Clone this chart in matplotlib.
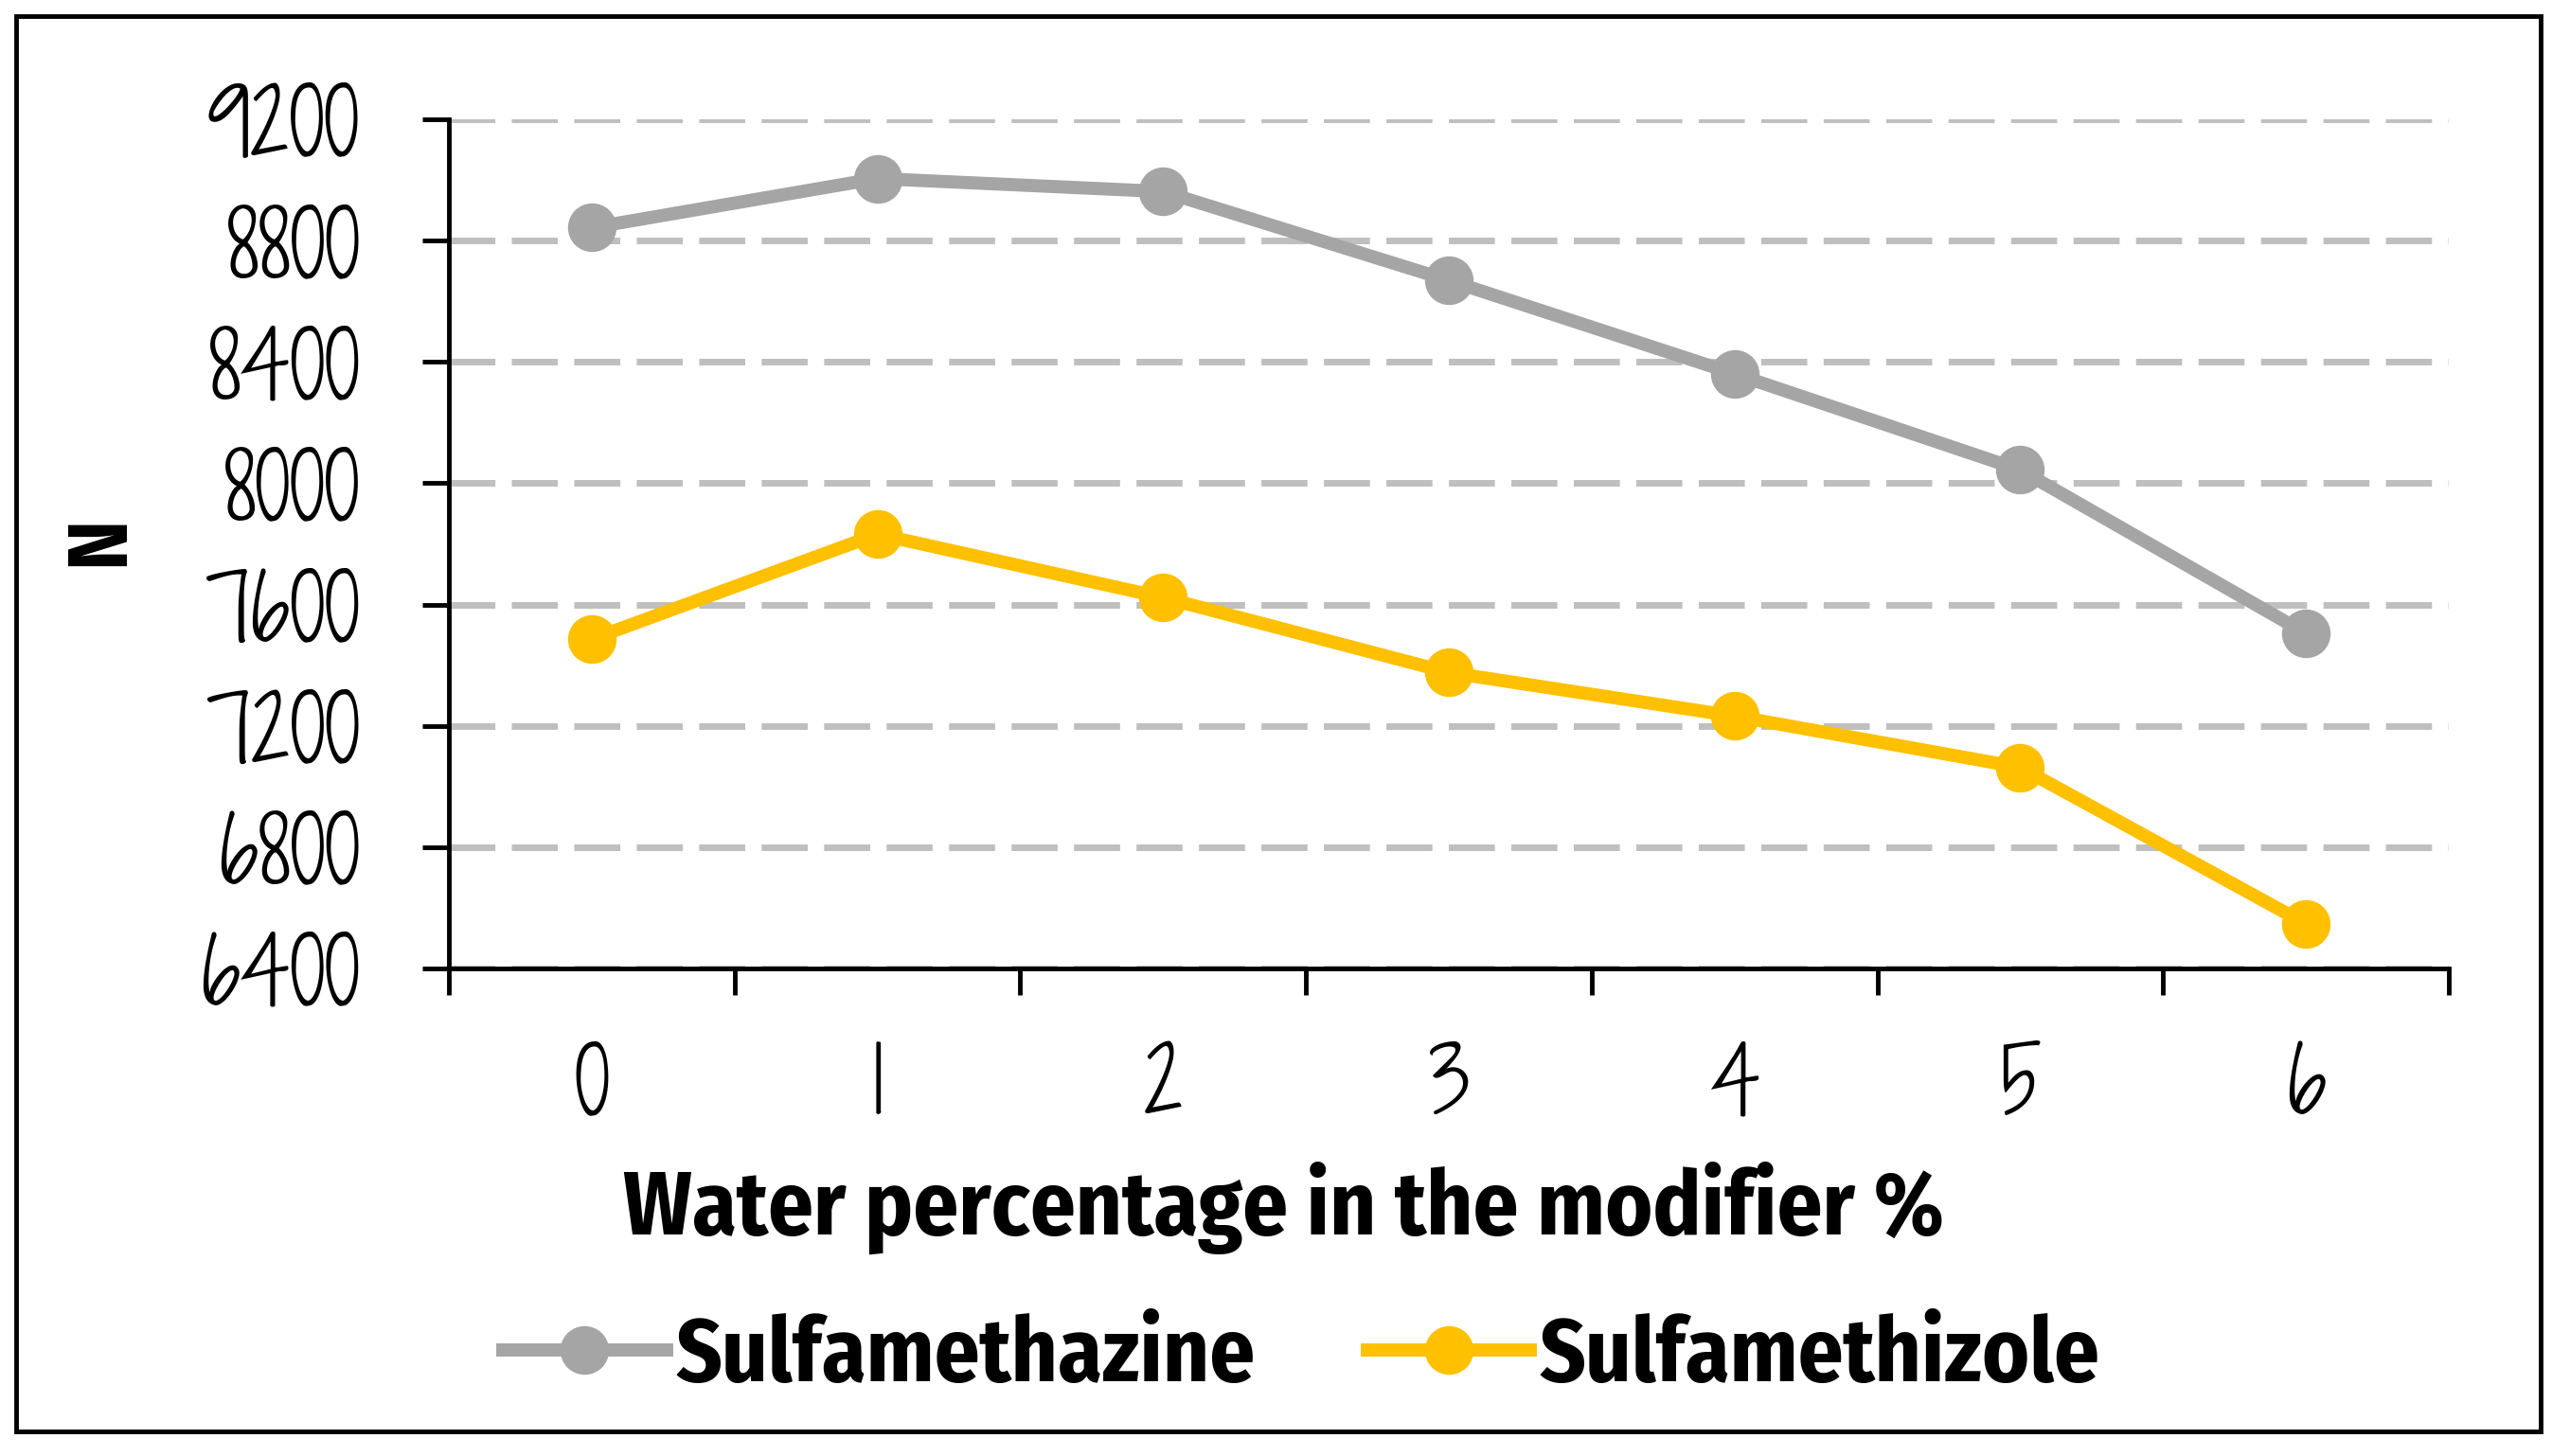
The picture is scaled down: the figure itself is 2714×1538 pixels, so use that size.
import numpy as np
import matplotlib.pyplot as plt
from matplotlib.patches import Rectangle
from matplotlib.lines import Line2D

# data
water_pct = ['0', '1', '2', '3', '4', '5', '6']
sulfamethazine = [8843, 9005, 8962, 8669, 8361, 8044, 7505]
sulfamethizole = [7486, 7832, 7623, 7376, 7232, 7063, 6547]
y_ticks = [6400, 6800, 7200, 7600, 8000, 8400, 8800, 9200]

GRAY = '#A5A5A5'
YELLOW = '#FFC000'
GRID = '#BFBFBF'

hand_font = dict(family=['Shadows Into Light Two', 'DejaVu Sans'], size=68)
bold_font = dict(family=['Fira Sans Condensed', 'DejaVu Sans'], weight='bold', size=68)

fig = plt.figure(figsize=(27.14, 15.38), dpi=100)
ax = fig.add_axes([0.1747, 0.3349, 0.9528 - 0.1747, 0.918 - 0.3349])

x = np.arange(len(water_pct)) + 0.5
ax.plot(x, sulfamethazine, color=GRAY, lw=10, marker='o', ms=36,
        solid_joinstyle='round', zorder=3, label='Sulfamethazine')
ax.plot(x, sulfamethizole, color=YELLOW, lw=10, marker='o', ms=36,
        solid_joinstyle='round', zorder=3, label='Sulfamethizole')

ax.set_xlim(0, len(water_pct))
ax.set_ylim(y_ticks[0], y_ticks[-1])

# category boundaries get the tick marks, centres get the labels
ax.set_xticks(np.arange(len(water_pct) + 1))
ax.set_xticklabels([])
ax.set_xticks(x, minor=True)
ax.set_xticklabels(water_pct, minor=True, fontdict=hand_font)
ax.tick_params(axis='x', which='major', length=20, width=3.5, direction='out')
ax.tick_params(axis='x', which='minor', length=0, pad=55)

ax.set_yticks(y_ticks)
ax.set_yticklabels([str(v) for v in y_ticks], fontdict=hand_font)
ax.tick_params(axis='y', length=20, width=3.5, direction='out', pad=48)

ax.yaxis.grid(True, color=GRID, lw=5, linestyle=(0, (7, 2.5)))
ax.set_axisbelow(True)

for side in ['top', 'right']:
    ax.spines[side].set_visible(False)
for side in ['left', 'bottom']:
    ax.spines[side].set_linewidth(3.5)
    ax.spines[side].set_zorder(4)

fig.text(0.4993, 0.1703, 'Water percentage in the modifier %', ha='center', va='center',
         **bold_font)
fig.text(0.0394, 0.6287, 'N', rotation=90, ha='center', va='center',
         family=['Fira Sans Condensed', 'DejaVu Sans'], weight='bold', size=64)

handles = [Line2D([], [], color=GRAY, lw=10, marker='o', ms=36),
           Line2D([], [], color=YELLOW, lw=10, marker='o', ms=36)]
fig.legend(handles, ['Sulfamethazine', 'Sulfamethizole'], loc='center',
           bbox_to_anchor=(0.5064, 0.0675), ncol=2, frameon=False,
           handlelength=1.83, handletextpad=0.1, columnspacing=1.25,
           prop=dict(family=['Fira Sans Condensed', 'DejaVu Sans'], weight='bold', size=68))

fig.patches.append(Rectangle((0.0063, 0.0169), 0.9823, 0.9721, transform=fig.transFigure,
                             fill=False, lw=3.5, ec='black'))

fig.savefig('out.png', dpi=100, facecolor='white')
